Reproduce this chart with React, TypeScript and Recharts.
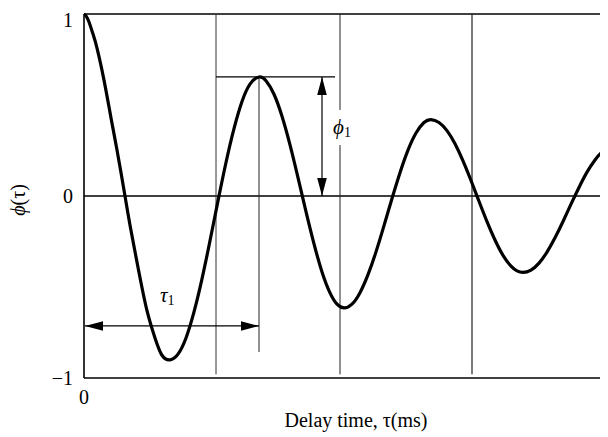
import React from 'react';
import { LineChart, Line, XAxis, YAxis, ReferenceLine, ReferenceDot, Label } from 'recharts';

// Delay time (arbitrary units, 1 unit ≈ 100 px in the reference)
const tau = [
  0, 0.02, 0.05, 0.09, 0.13, 0.2, 0.27, 0.33, 0.41, 0.47, 0.55, 0.63, 0.71, 0.78, 0.86,
  0.94, 1.02, 1.1, 1.18, 1.26, 1.34, 1.42, 1.5, 1.58, 1.66, 1.75,
  1.82, 1.9, 1.98, 2.06, 2.14, 2.22, 2.3, 2.38, 2.46, 2.53, 2.6,
  2.68, 2.76, 2.84, 2.92, 3.0, 3.08, 3.16, 3.24, 3.32, 3.4, 3.47,
  3.55, 3.63, 3.71, 3.79, 3.87, 3.95, 4.03, 4.11, 4.19, 4.27, 4.33, 4.39,
  4.47, 4.55, 4.63, 4.71, 4.79, 4.87, 4.95, 5.03, 5.11, 5.19, 5.27, 5.34,
];
// Normalized autocorrelation function values
const phi = [
  1.0, 0.99, 0.956, 0.89, 0.813, 0.637, 0.429, 0.253, 0.0, -0.19, -0.42, -0.63, -0.78, -0.875, -0.9,
  -0.869, -0.78, -0.637, -0.455, -0.246, -0.027, 0.184, 0.37, 0.519, 0.615, 0.654,
  0.633, 0.559, 0.438, 0.281, 0.101, -0.086, -0.263, -0.417, -0.532, -0.594, -0.615,
  -0.594, -0.531, -0.432, -0.307, -0.163, -0.014, 0.128, 0.252, 0.346, 0.404, 0.42,
  0.404, 0.359, 0.287, 0.193, 0.085, -0.029, -0.141, -0.242, -0.326, -0.385, -0.411, -0.42,
  -0.407, -0.369, -0.308, -0.23, -0.14, -0.045, 0.047, 0.131, 0.198, 0.246, 0.268, 0.268,
];
const yTicks = [-1, 0, 1];
const xTicks = [0];
const xDomain = [0, 5.34];

// Annotation values
const tau1 = 1.75; // first peak delay
const phi1 = 0.654; // first peak amplitude

const data = tau.map((t, i) => ({ x: t, y: phi[i] }));

const FONT = "'Liberation Serif', 'DejaVu Serif', 'Times New Roman', serif";

const ArrowShape = (p: any) => {
  const { x1, y1, x2, y2 } = p;
  const dx = x2 - x1;
  const dy = y2 - y1;
  const len = Math.sqrt(dx * dx + dy * dy) || 1;
  const ux = dx / len;
  const uy = dy / len;
  const hl = 18;
  const hw = 4.8;
  const head = (tx: number, ty: number, dirx: number, diry: number) => {
    const bx = tx - dirx * hl;
    const by = ty - diry * hl;
    const px = -diry * hw;
    const py = dirx * hw;
    return `${tx},${ty} ${bx + px},${by + py} ${bx - px},${by - py}`;
  };
  return (
    <g>
      <line x1={x1} y1={y1} x2={x2} y2={y2} stroke="#000" strokeWidth={1.2} />
      <polygon points={head(x2, y2, ux, uy)} fill="#000" />
      <polygon points={head(x1, y1, -ux, -uy)} fill="#000" />
    </g>
  );
};

const SubLabel = (main: string, sub: string) => (p: any) => (
  <text x={p.cx} y={p.cy} fontFamily={FONT} fill="#000">
    <tspan fontSize={21} fontStyle="italic">{main}</tspan>
    <tspan fontSize={14} dy={3}>{sub}</tspan>
  </text>
);

export default function App() {
  return (
    <LineChart width={610} height={429} data={data} margin={{ top: 6, right: 0, bottom: 0, left: 0 }}>
      <XAxis
        dataKey="x"
        type="number"
        domain={xDomain}
        ticks={xTicks}
        allowDataOverflow
        height={59}
        axisLine={{ stroke: '#000', strokeWidth: 1.6 }}
        tickLine={false}
        tickSize={0}
        tickMargin={12}
        tick={{ fill: '#000', fontSize: 20, fontFamily: FONT }}
      >
        <Label
          content={(props: any) => {
            const vb = props.viewBox;
            return (
              <text x={vb.x + vb.width / 2 + 5} y={vb.y + 49} textAnchor="middle" fontSize={20} fontFamily={FONT} fill="#000">
                Delay time, τ(ms)
              </text>
            );
          }}
        />
      </XAxis>
      <YAxis
        type="number"
        domain={[-1, 1]}
        ticks={yTicks}
        width={76}
        axisLine={{ stroke: '#000', strokeWidth: 1.6 }}
        tickLine={false}
        tickSize={0}
        tickMargin={11}
        tick={{ fill: '#000', fontSize: 20, fontFamily: FONT }}
        tickFormatter={(v: number) => (v < 0 ? '\u2212' + Math.abs(v) : String(v))}
      >
        <Label
          content={(props: any) => {
            const vb = props.viewBox;
            const cx = 9.5;
            const cy = vb.y + vb.height / 2 + 4;
            return (
              <text
                x={cx}
                y={cy}
                transform={`rotate(-90 ${cx} ${cy})`}
                textAnchor="middle"
                dominantBaseline="central"
                fontSize={20}
                fontFamily={FONT}
                fill="#000"
              >
                <tspan fontStyle="italic">ϕ</tspan>(τ)
              </text>
            );
          }}
        />
      </YAxis>

      <ReferenceLine y={1} stroke="#000" strokeWidth={1.6} />
      <ReferenceLine y={0} stroke="#000" strokeWidth={1.3} />

      <ReferenceLine segment={[{ x: 1.32, y: 1 }, { x: 1.32, y: -0.98 }]} stroke="#333" strokeWidth={1} />
      <ReferenceLine segment={[{ x: 2.56, y: 1 }, { x: 2.56, y: 0.473 }]} stroke="#222" strokeWidth={1} />
      <ReferenceLine segment={[{ x: 2.56, y: 0.28 }, { x: 2.56, y: -0.98 }]} stroke="#222" strokeWidth={1} />
      <ReferenceLine segment={[{ x: 3.88, y: 1 }, { x: 3.88, y: -0.98 }]} stroke="#222" strokeWidth={1.2} />
      <ReferenceLine segment={[{ x: tau1, y: phi1 }, { x: tau1, y: -0.857 }]} stroke="#222" strokeWidth={1} />
      <ReferenceLine segment={[{ x: 1.32, y: phi1 }, { x: 2.51, y: phi1 }]} stroke="#000" strokeWidth={1.2} />

      <ReferenceLine segment={[{ x: 2.38, y: phi1 }, { x: 2.38, y: 0 }]} shape={ArrowShape} />
      <ReferenceLine segment={[{ x: 0.01, y: -0.714 }, { x: tau1, y: -0.714 }]} shape={ArrowShape} />

      <ReferenceDot x={2.49} y={0.34} r={0} shape={SubLabel('ϕ', '1')} />
      <ReferenceDot x={0.76} y={-0.58} r={0} shape={SubLabel('τ', '1')} />

      <Line
        type="natural"
        dataKey="y"
        stroke="#000"
        strokeWidth={3.2}
        dot={false}
        isAnimationActive={false}
      />
    </LineChart>
  );
}
